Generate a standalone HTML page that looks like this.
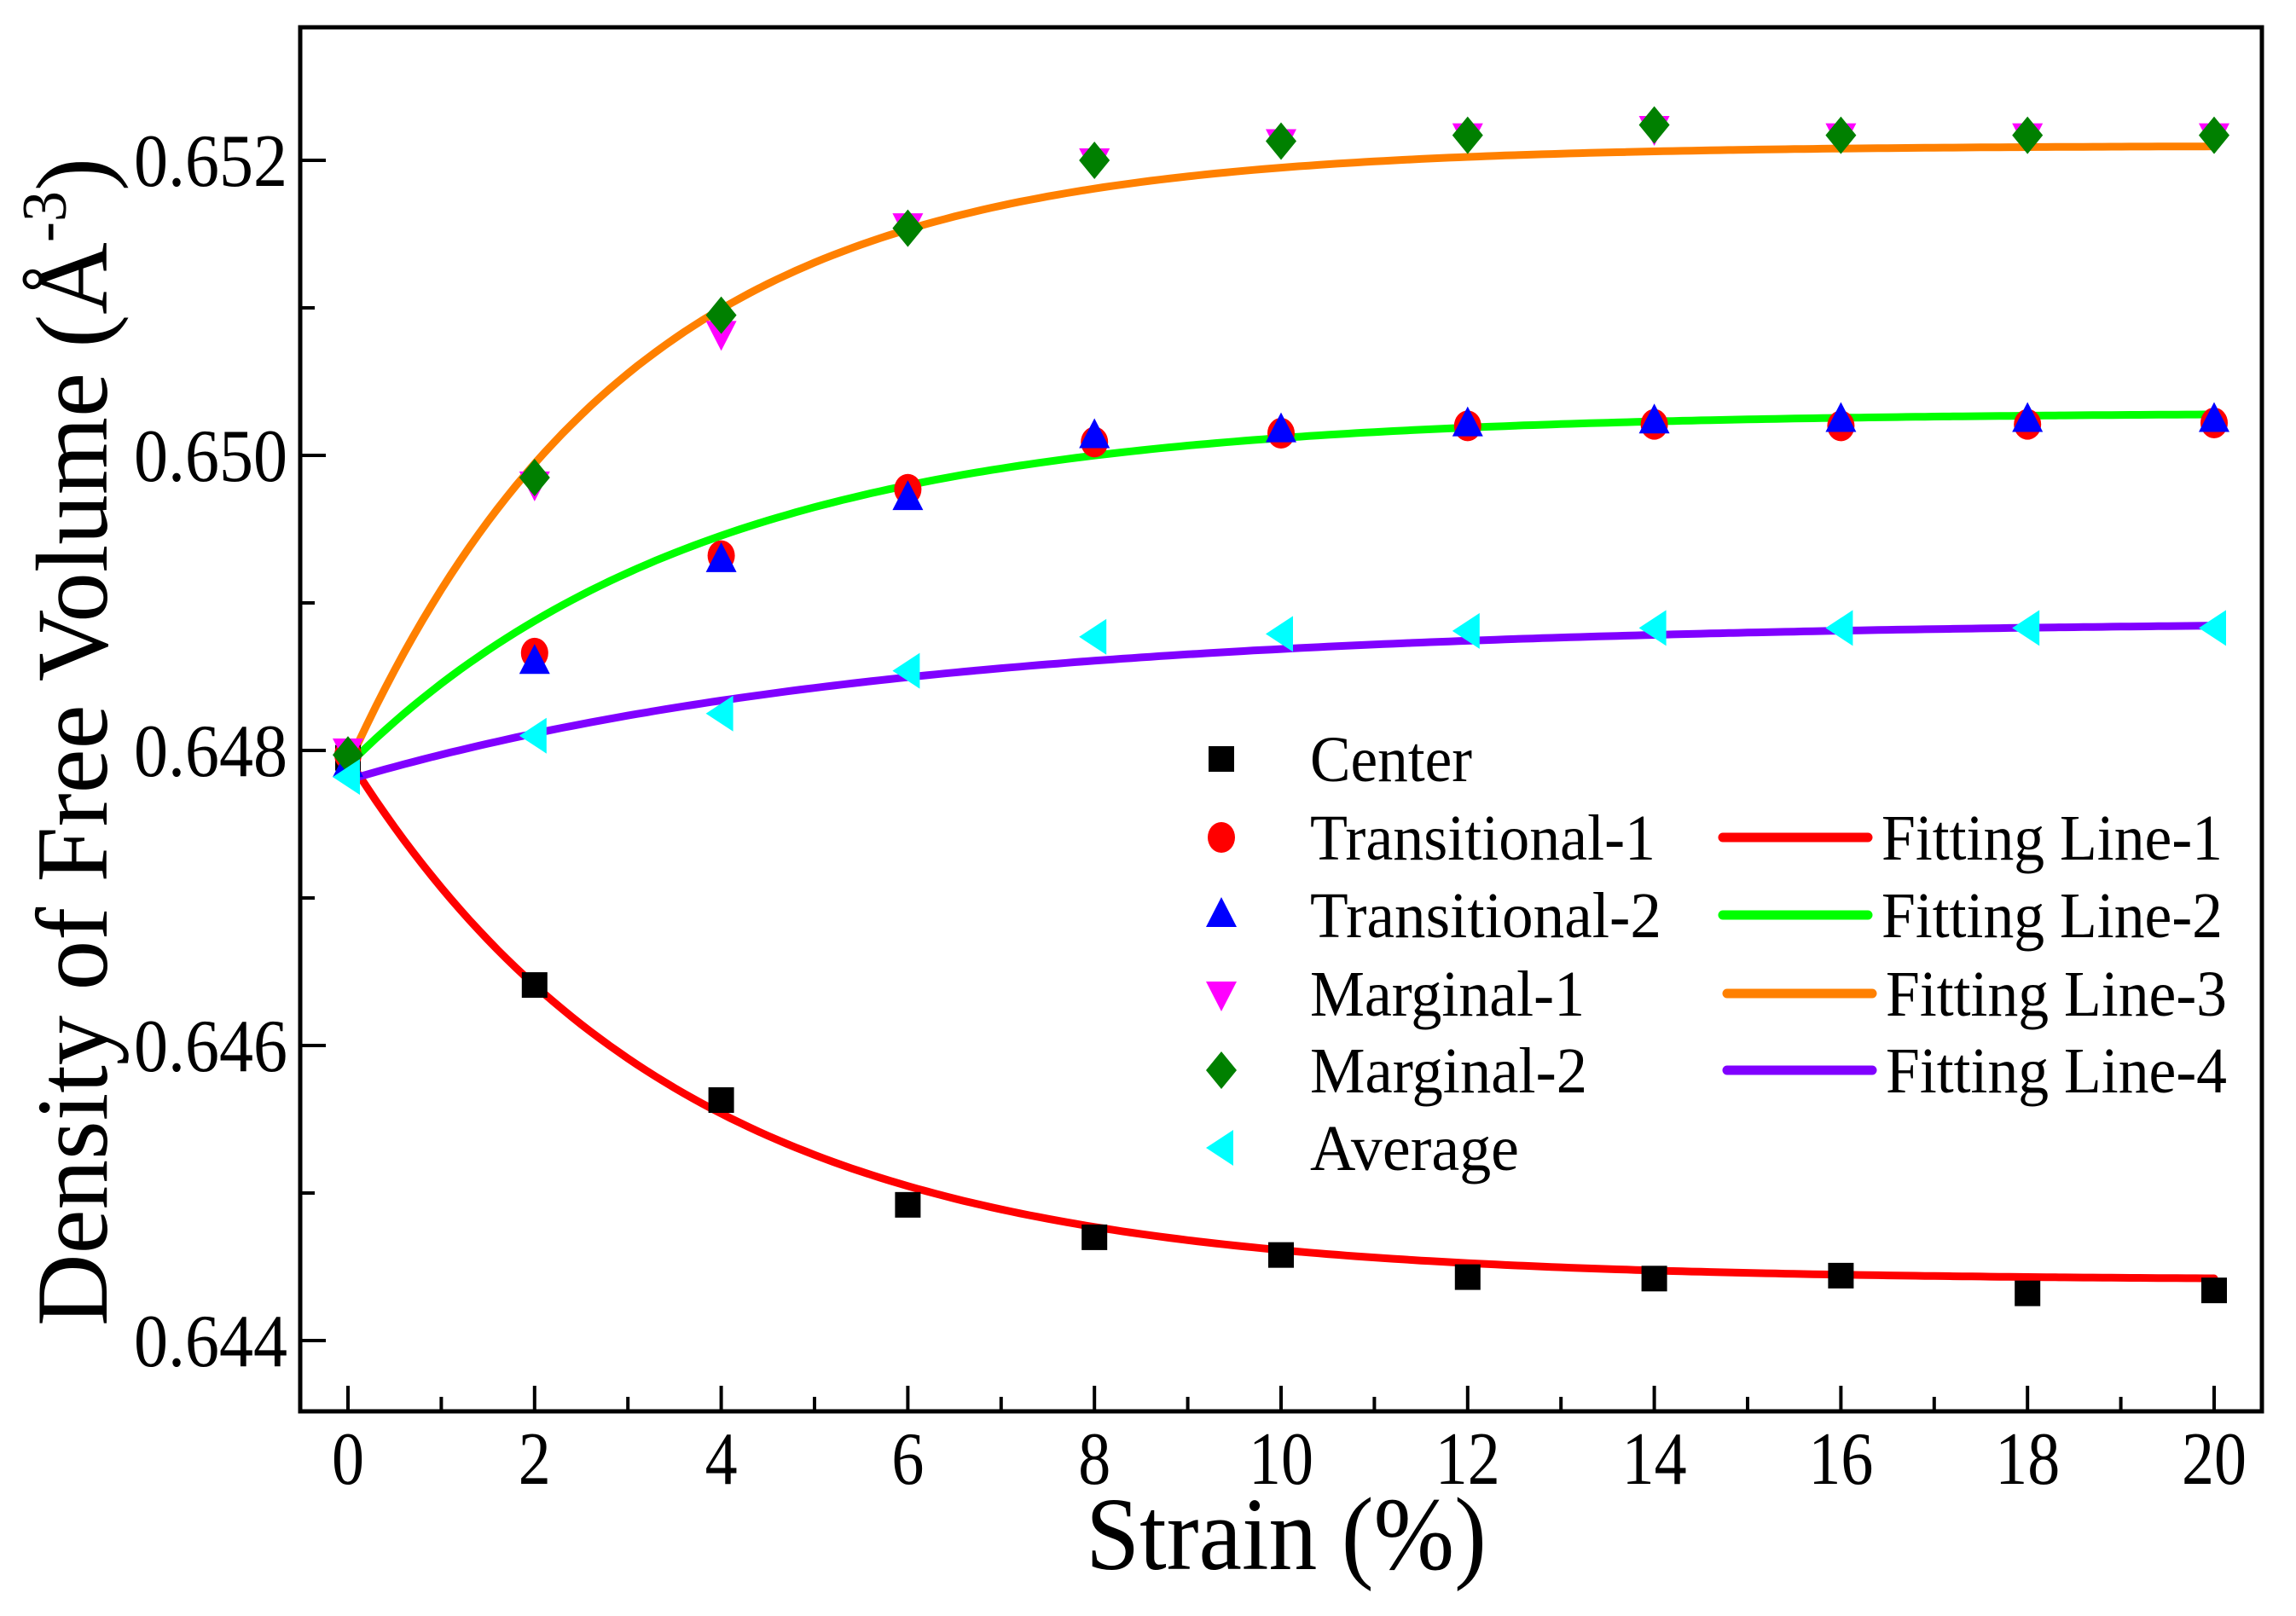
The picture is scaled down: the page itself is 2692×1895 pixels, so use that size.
<!DOCTYPE html>
<html><head><meta charset="utf-8"><style>
html,body{margin:0;padding:0;background:#fff;}
svg{display:block;font-family:"Liberation Serif",serif;}
</style></head><body>
<svg id="chart" width="2692" height="1895" viewBox="0 0 2692 1895">
<g id="plot"></g>
</svg>
<script>
const strain = [0,2,4,6,8,10,12,14,16,18,20];
const center = [0.64795,0.64641,0.64563,0.64492,0.64470,0.64458,0.64443,0.64442,0.64444,0.64432,0.64434];
const trans1 = [0.64797,0.64866,0.64932,0.64977,0.65009,0.65015,0.65020,0.65021,0.65020,0.65021,0.65022];
const trans2 = [0.64790,0.64860,0.64929,0.64971,0.65013,0.65017,0.65021,0.65023,0.65024,0.65024,0.65024];
const marg1 = [0.64800,0.64981,0.65083,0.65156,0.65200,0.65213,0.65217,0.65222,0.65217,0.65217,0.65217];
const marg2 = [0.64797,0.64985,0.65095,0.65154,0.65200,0.65213,0.65217,0.65224,0.65217,0.65217,0.65217];
const average = [0.64782,0.64810,0.64825,0.64854,0.64877,0.64879,0.64881,0.64883,0.64883,0.64883,0.64883];
const fitA = [0.64441,0.65029,0.65210,0.64888];
const fitB = [0.00354,-0.00239,-0.00420,-0.00108];
const fitT = [3.5,3.8,3.0,5.8];
const xTicks = [0,2,4,6,8,10,12,14,16,18,20];
const yTicks = [0.644,0.646,0.648,0.650,0.652];
const yTickLabels = ["0.644","0.646","0.648","0.650","0.652"];

const NS="http://www.w3.org/2000/svg";
const L=352,R=2652,T=32,B=1655;
function sx(v){return 408+v*109.4;}
function sy(v){return 1572-(v-0.644)*173000;}
const plot=document.getElementById('plot');
function mk(tag,attrs,parent){const e=document.createElementNS(NS,tag);for(const k in attrs)e.setAttribute(k,attrs[k]);(parent||plot).appendChild(e);return e;}

const fitColors=["#ff0000","#00ff00","#ff8000","#8000ff"];
for(let i=0;i<4;i++){
  let d="";
  for(let s=0;s<=200;s++){const x=0.1*s;const y=fitA[i]+fitB[i]*Math.exp(-x/fitT[i]);d+=(s?"L":"M")+sx(x).toFixed(1)+","+sy(y).toFixed(1);}
  const p=mk('path',{d:d,fill:"none",stroke:fitColors[i],"stroke-width":9,"stroke-linecap":"round"});
  
  
}
function marker(shape,color,x,y,parent){
  let e;
  if(shape==="square")e=mk('rect',{x:x-15,y:y-15,width:30,height:30,fill:color},parent);
  else if(shape==="circle")e=mk('ellipse',{cx:x,cy:y,rx:16,ry:18,fill:color},parent);
  else if(shape==="up")e=mk('polygon',{points:`${x},${y-21} ${x+18},${y+14} ${x-18},${y+14}`,fill:color},parent);
  else if(shape==="down")e=mk('polygon',{points:`${x},${y+21} ${x+18},${y-14} ${x-18},${y-14}`,fill:color},parent);
  else if(shape==="diamond")e=mk('polygon',{points:`${x},${y-22} ${x+18},${y} ${x},${y+22} ${x-18},${y}`,fill:color},parent);
  else e=mk('polygon',{points:`${x-18},${y} ${x+14},${y-21} ${x+14},${y+21}`,fill:color},parent);
  return e;
}
const series=[["center",center,"square","#000000"],["transitional-1",trans1,"circle","#ff0000"],["transitional-2",trans2,"up","#0000ff"],["marginal-1",marg1,"down","#ff00ff"],["marginal-2",marg2,"diamond","#008000"],["average",average,"left","#00ffff"]];
series.forEach(([n,vals,sh,c])=>{
  vals.forEach((v,j)=>{
    const e=marker(sh,c,sx(strain[j]),sy(v));
    
    
  });
});
const fr=mk('rect',{x:L,y:T,width:R-L,height:B-T,fill:"none",stroke:"#000","stroke-width":5});


for(let v=0;v<=20;v++){
  const major=v%2===0;
  const t=mk('line',{x1:sx(v),x2:sx(v),y1:B,y2:B-(major?30:17),stroke:"#000","stroke-width":4});
  
  
}
xTicks.forEach(v=>{
  const w=String(v).length*38;
  const t=mk('text',{x:sx(v),y:1740,"font-size":88,"text-anchor":"middle",textLength:w,lengthAdjust:"spacingAndGlyphs"});
  t.textContent=String(v);
  
  
});
yTicks.forEach((v,i)=>{
  const t=mk('line',{x1:L,x2:L+30,y1:sy(v),y2:sy(v),stroke:"#000","stroke-width":4});
  
  
  const lb=mk('text',{x:337,y:sy(v)+30,"font-size":88,"text-anchor":"end",textLength:180,lengthAdjust:"spacingAndGlyphs"});
  lb.textContent=yTickLabels[i];
  
  
});
for(let k=0;k<4;k++){
  const v=0.645+k*0.002;
  const t=mk('line',{x1:L,x2:L+17,y1:sy(v),y2:sy(v),stroke:"#000","stroke-width":4});
  
  
}
const xt=mk('text',{x:1508,y:1840,"font-size":122,"text-anchor":"middle",textLength:470,lengthAdjust:"spacingAndGlyphs"});
xt.textContent="Strain (%)";


const yt=mk('text',{transform:"translate(125,870) rotate(-90)","font-size":120,"text-anchor":"middle",textLength:1370,lengthAdjust:"spacingAndGlyphs"});
yt.innerHTML='Density of Free Volume (Å<tspan dy="-48" font-size="74">-3</tspan><tspan dy="48">)</tspan>';


const legRows=[890,982,1073,1165,1255,1346];
const legNames=["Center","Transitional-1","Transitional-2","Marginal-1","Marginal-2","Average"];
const legWidths=[190,405,412,322,325,245];
const legG=mk('g',{});


series.forEach(([n,vals,sh,c],i)=>{
  const m=marker(sh,c,1432,legRows[i],legG);
  
  
  const t=mk('text',{x:1536,y:legRows[i]+26,"font-size":76,textLength:legWidths[i],lengthAdjust:"spacingAndGlyphs"},legG);
  t.textContent=legNames[i];
  
  
});
for(let i=0;i<4;i++){
  const y=legRows[i+1];
  const ln=mk('line',{x1:2020+(i>1?5:0),x2:2190+(i>1?5:0),y1:y,y2:y,stroke:fitColors[i],"stroke-width":11,"stroke-linecap":"round"},legG);
  
  
  const t=mk('text',{x:2206+(i>1?5:0),y:y+26,"font-size":76,textLength:400,lengthAdjust:"spacingAndGlyphs"},legG);
  t.textContent="Fitting Line-"+(i+1);
  
  
}
</script>
</body></html>
